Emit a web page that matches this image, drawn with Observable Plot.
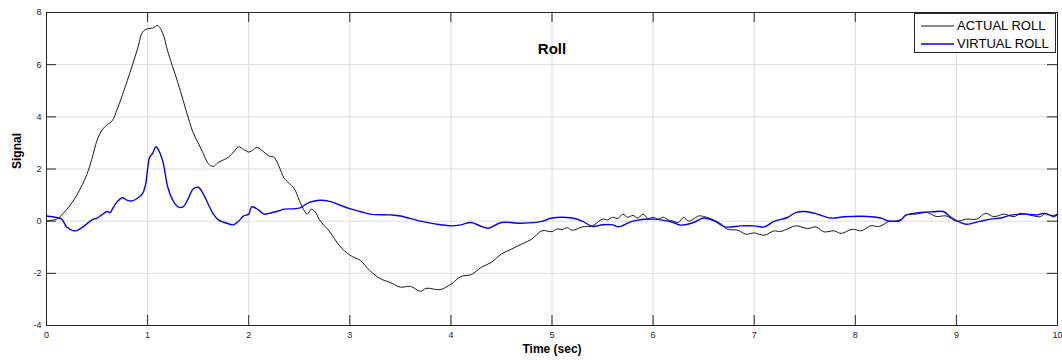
<!DOCTYPE html>
<html>
<head>
<meta charset="utf-8">
<script src="https://cdn.jsdelivr.net/npm/d3@7"></script>
<script src="https://cdn.jsdelivr.net/npm/@observablehq/plot@0.6"></script>
<style>
  html, body { margin: 0; padding: 0; background: #fff; }
  #wrap { position: relative; width: 1062px; height: 360px; font-family: "Liberation Sans", Arial, sans-serif; }
  #legend { position: absolute; left: 914px; top: 13px; width: 142px; height: 40px; border: 1px solid #262626; background: #fff; box-sizing: border-box; }
  .item { position: absolute; left: 0; height: 15px; font-size: 13px; line-height: 15px; color: #000; white-space: nowrap; }
  .sw { position: absolute; left: 6px; top: 0; }
  .lbl { position: absolute; left: 42px; top: 0; }
</style>
</head>
<body>
<div id="wrap"></div>
<script>
const title = "Roll";
const xLabel = "Time (sec)";
const yLabel = "Signal";
const seriesNames = ["ACTUAL ROLL", "VIRTUAL ROLL"];
const seriesColors = ["#1a1a1a", "#0000ff"];
const seriesWidths = [1, 1.4];
const xTicks = [0,1,2,3,4,5,6,7,8,9,10];
const yTicks = [-4,-2,0,2,4,6,8];

const actualT = [0,0.1,0.2,0.3,0.4,0.45,0.5,0.55,0.6,0.65,0.7,0.8,0.9,0.95,1.0,1.05,1.1,1.15,1.2,1.3,1.4,1.45,1.5,1.55,1.6,1.65,1.7,1.75,1.8,1.85,1.9,1.95,2.0,2.05,2.08,2.15,2.2,2.25,2.3,2.35,2.4,2.45,2.5,2.55,2.58,2.62,2.66,2.7,2.8,2.9,3.0,3.1,3.2,3.3,3.4,3.5,3.6,3.7,3.75,3.8,3.85,3.9,4.0,4.1,4.2,4.3,4.4,4.5,4.6,4.7,4.8,4.9,5.0,5.05,5.1,5.15,5.2,5.3,5.4,5.5,5.55,5.6,5.65,5.7,5.75,5.8,5.85,5.9,5.95,6.0,6.05,6.1,6.15,6.2,6.25,6.3,6.35,6.4,6.45,6.5,6.58,6.67,6.73,6.84,6.92,7.0,7.1,7.2,7.25,7.3,7.41,7.53,7.61,7.69,7.79,7.86,7.97,8.06,8.15,8.24,8.34,8.44,8.5,8.6,8.71,8.8,8.9,9.0,9.1,9.2,9.29,9.37,9.47,9.57,9.63,9.73,9.83,9.88,9.96,10];
const actualY = [0.02,0.08,0.45,1.0,1.8,2.4,3.1,3.5,3.7,3.85,4.3,5.4,6.6,7.25,7.38,7.4,7.5,7.2,6.5,5.3,4.0,3.4,3.0,2.6,2.2,2.1,2.25,2.35,2.45,2.65,2.85,2.75,2.65,2.75,2.83,2.65,2.5,2.45,2.1,1.65,1.45,1.25,0.8,0.4,0.27,0.46,0.35,0.05,-0.4,-0.95,-1.3,-1.5,-1.9,-2.2,-2.35,-2.53,-2.5,-2.69,-2.58,-2.58,-2.62,-2.62,-2.42,-2.12,-2.05,-1.77,-1.58,-1.26,-1.07,-0.88,-0.69,-0.37,-0.4,-0.3,-0.32,-0.25,-0.35,-0.22,-0.18,0.08,0.05,0.15,0.1,0.27,0.15,0.22,0.12,0.27,0.1,0.15,0.08,0.15,0.05,0.0,-0.05,0.14,0.0,0.08,0.2,0.18,0.08,-0.1,-0.3,-0.35,-0.5,-0.45,-0.54,-0.37,-0.4,-0.35,-0.18,-0.28,-0.22,-0.41,-0.37,-0.47,-0.31,-0.37,-0.18,-0.2,0.0,0.0,0.23,0.27,0.33,0.18,0.2,0.0,0.08,0.08,0.3,0.17,0.27,0.17,0.3,0.23,0.17,0.3,0.17,0.24];

const virtualT = [0,0.1,0.15,0.2,0.27,0.3,0.35,0.4,0.45,0.5,0.55,0.6,0.63,0.65,0.7,0.75,0.8,0.85,0.9,0.95,0.98,1.0,1.02,1.05,1.08,1.1,1.15,1.2,1.25,1.3,1.35,1.4,1.45,1.5,1.55,1.6,1.65,1.7,1.8,1.85,1.9,1.95,2.0,2.03,2.1,2.15,2.2,2.3,2.35,2.5,2.6,2.7,2.8,2.9,3.0,3.1,3.2,3.4,3.5,3.7,3.9,4.0,4.1,4.2,4.3,4.37,4.5,4.7,4.9,5.0,5.2,5.3,5.4,5.5,5.6,5.66,5.8,6.0,6.2,6.27,6.4,6.5,6.61,6.71,6.87,7.0,7.1,7.2,7.33,7.41,7.5,7.6,7.76,7.89,8.12,8.25,8.34,8.45,8.5,8.64,8.77,8.87,8.94,9.04,9.1,9.24,9.34,9.44,9.54,9.67,9.8,9.86,9.96,10];
const virtualY = [0.2,0.14,0.08,-0.22,-0.37,-0.36,-0.25,-0.1,0.05,0.12,0.25,0.37,0.33,0.45,0.75,0.9,0.8,0.78,0.88,1.06,1.4,2.0,2.45,2.6,2.85,2.78,2.3,1.3,0.8,0.55,0.55,0.85,1.23,1.3,1.05,0.65,0.27,0.05,-0.1,-0.14,0.0,0.2,0.27,0.55,0.42,0.27,0.3,0.4,0.46,0.5,0.72,0.8,0.76,0.62,0.48,0.37,0.27,0.24,0.2,0.0,-0.14,-0.18,-0.14,-0.05,-0.2,-0.27,-0.05,-0.08,-0.01,0.12,0.12,0.0,-0.2,-0.14,-0.14,-0.22,0.0,0.08,-0.05,-0.15,-0.05,0.12,0.0,-0.22,-0.18,-0.18,-0.22,0.0,0.14,0.33,0.37,0.3,0.12,0.17,0.18,0.12,0.0,0.05,0.23,0.33,0.36,0.37,0.17,-0.05,-0.12,0.0,0.08,0.12,0.23,0.27,0.24,0.3,0.2,0.27];

const actual = actualT.map((t, i) => ({t, v: actualY[i]}));
const virtual = virtualT.map((t, i) => ({t, v: virtualY[i]}));

const W = 1062, H = 360, mL = 46, mR = 5, mT = 12, mB = 35;
const plotW = W - mL - mR, plotH = H - mT - mB;
const tickLen = 10;
const axisColor = "#262626";

const chart = Plot.plot({
  width: W, height: H,
  marginLeft: mL, marginRight: mR, marginTop: mT, marginBottom: mB,
  style: { fontFamily: "'Liberation Sans', Arial, sans-serif", background: "#fff", color: axisColor },
  x: { domain: [0, 10] },
  y: { domain: [-4, 8] },
  marks: [
    Plot.gridX(xTicks, { stroke: "#dedede", strokeOpacity: 1 }),
    Plot.gridY(yTicks, { stroke: "#dedede", strokeOpacity: 1 }),
    Plot.line(actual, { x: "t", y: "v", stroke: seriesColors[0], strokeWidth: seriesWidths[0], curve: "catmull-rom" }),
    Plot.line(virtual, { x: "t", y: "v", stroke: seriesColors[1], strokeWidth: seriesWidths[1], curve: "catmull-rom" }),
    Plot.tickX(xTicks, { x: d => d, insetTop: plotH - tickLen, stroke: axisColor }),
    Plot.tickX(xTicks, { x: d => d, insetBottom: plotH - tickLen, stroke: axisColor }),
    Plot.tickY(yTicks, { y: d => d, insetRight: plotW - tickLen, stroke: axisColor }),
    Plot.tickY(yTicks, { y: d => d, insetLeft: plotW - tickLen, stroke: axisColor }),
    Plot.frame({ stroke: axisColor, strokeWidth: 1 }),
    Plot.axisX(xTicks, { tickSize: 0, tickPadding: 6, fontSize: 9, label: null, tickFormat: d => String(d) }),
    Plot.axisY(yTicks, { tickSize: 0, tickPadding: 5, fontSize: 9, label: null, tickFormat: d => String(d) }),
    Plot.text([title], { frameAnchor: "top", dy: 31, fontSize: 15, fontWeight: "bold", fill: "#000" }),
    Plot.text([xLabel], { frameAnchor: "bottom", dy: 27, fontSize: 12, fontWeight: "bold", fill: "#000" }),
    Plot.text([yLabel], { frameAnchor: "left", dx: -29, rotate: -90, fontSize: 12, fontWeight: "bold", fill: "#000" })
  ]
});

const wrap = document.getElementById("wrap");
wrap.appendChild(chart);

const NS = "http://www.w3.org/2000/svg";
const legend = document.createElement("div");
legend.id = "legend";
seriesNames.forEach((name, i) => {
  const item = document.createElement("div");
  item.className = "item";
  item.style.top = (4 + i * 18) + "px";
  item.style.width = "100%";
  const sw = document.createElementNS(NS, "svg");
  sw.setAttribute("class", "sw");
  sw.setAttribute("width", "33");
  sw.setAttribute("height", "15");
  const ln = document.createElementNS(NS, "line");
  ln.setAttribute("x1", "0"); ln.setAttribute("x2", "33");
  ln.setAttribute("y1", "8"); ln.setAttribute("y2", "8");
  ln.setAttribute("stroke", seriesColors[i]);
  ln.setAttribute("stroke-width", String(seriesWidths[i]));
  sw.appendChild(ln);
  const lbl = document.createElement("span");
  lbl.className = "lbl";
  lbl.textContent = name;
  item.appendChild(sw);
  item.appendChild(lbl);
  legend.appendChild(item);
});
wrap.appendChild(legend);
</script>
</body>
</html>
